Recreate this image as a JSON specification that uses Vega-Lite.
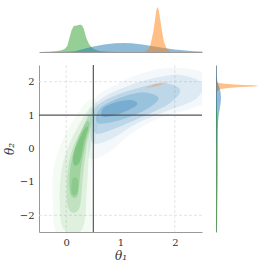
{
  "$schema": "https://vega.github.io/schema/vega-lite/v6.json",
  "background": "white",
  "padding": {"left": 3, "top": 5, "right": 0, "bottom": 0},
  "config": {"view": {"stroke": null}, "font": "DejaVu Serif",
    "axisX": {"ticks": false, "grid": false, "domainColor": "#999999", "labelFont": "DejaVu Serif", "labelFontSize": 10, "labelColor": "#333333", "labelPadding": 5, "titleFont": "DejaVu Serif", "titleFontStyle": "italic", "titleFontWeight": "normal", "titleFontSize": 12, "titleColor": "#333333", "titlePadding": 3},
    "axisY": {"ticks": false, "grid": false, "domainColor": "#999999", "labelFont": "DejaVu Serif", "labelFontSize": 10, "labelColor": "#333333", "labelPadding": 5, "titleFont": "DejaVu Serif", "titleFontStyle": "italic", "titleFontWeight": "normal", "titleFontSize": 12, "titleColor": "#333333", "titlePadding": 3}
  },
  "datasets": {
    "top": [
      {"dist":"green","t1":-0.5,"d":0},{"dist":"green","t1":-0.3,"d":0.3},{"dist":"green","t1":-0.2,"d":0.8},{"dist":"green","t1":-0.1,"d":1.5},{"dist":"green","t1":-0.03,"d":3},{"dist":"green","t1":0.02,"d":6},{"dist":"green","t1":0.06,"d":14},{"dist":"green","t1":0.1,"d":22},{"dist":"green","t1":0.14,"d":26},{"dist":"green","t1":0.2,"d":26.5},{"dist":"green","t1":0.26,"d":27.5},{"dist":"green","t1":0.3,"d":26},{"dist":"green","t1":0.33,"d":22},{"dist":"green","t1":0.37,"d":14},{"dist":"green","t1":0.42,"d":8},{"dist":"green","t1":0.48,"d":4},{"dist":"green","t1":0.55,"d":2},{"dist":"green","t1":0.65,"d":0.8},{"dist":"green","t1":0.8,"d":0.3},{"dist":"green","t1":1.0,"d":0.1},{"dist":"green","t1":1.5,"d":0},{"dist":"green","t1":2.5,"d":0},
      {"dist":"blue","t1":-0.5,"d":0},{"dist":"blue","t1":0,"d":0.2},{"dist":"blue","t1":0.15,"d":0.8},{"dist":"blue","t1":0.25,"d":2},{"dist":"blue","t1":0.35,"d":3.5},{"dist":"blue","t1":0.5,"d":5.5},{"dist":"blue","t1":0.7,"d":7.5},{"dist":"blue","t1":0.9,"d":8.7},{"dist":"blue","t1":1.05,"d":9},{"dist":"blue","t1":1.2,"d":8.7},{"dist":"blue","t1":1.4,"d":7.5},{"dist":"blue","t1":1.6,"d":5.8},{"dist":"blue","t1":1.8,"d":4},{"dist":"blue","t1":2.0,"d":2.5},{"dist":"blue","t1":2.2,"d":1.4},{"dist":"blue","t1":2.35,"d":0.8},{"dist":"blue","t1":2.5,"d":0.4},
      {"dist":"orange","t1":-0.5,"d":0},{"dist":"orange","t1":1.35,"d":0},{"dist":"orange","t1":1.45,"d":0.5},{"dist":"orange","t1":1.5,"d":2},{"dist":"orange","t1":1.55,"d":7},{"dist":"orange","t1":1.6,"d":19},{"dist":"orange","t1":1.63,"d":30},{"dist":"orange","t1":1.66,"d":42},{"dist":"orange","t1":1.68,"d":45},{"dist":"orange","t1":1.7,"d":43},{"dist":"orange","t1":1.73,"d":33},{"dist":"orange","t1":1.77,"d":19},{"dist":"orange","t1":1.8,"d":10},{"dist":"orange","t1":1.85,"d":3.5},{"dist":"orange","t1":1.9,"d":1},{"dist":"orange","t1":1.95,"d":0.3},{"dist":"orange","t1":2.0,"d":0},{"dist":"orange","t1":2.5,"d":0}
    ],
    "right": [
      {"dist":"orange","t2":2.5,"d":0},{"dist":"orange","t2":2.1,"d":0},{"dist":"orange","t2":2.0,"d":0.5},{"dist":"orange","t2":1.97,"d":2},{"dist":"orange","t2":1.94,"d":8},{"dist":"orange","t2":1.91,"d":22},{"dist":"orange","t2":1.89,"d":38},{"dist":"orange","t2":1.875,"d":43},{"dist":"orange","t2":1.86,"d":38},{"dist":"orange","t2":1.84,"d":25},{"dist":"orange","t2":1.81,"d":12},{"dist":"orange","t2":1.78,"d":5},{"dist":"orange","t2":1.74,"d":2},{"dist":"orange","t2":1.7,"d":0.8},{"dist":"orange","t2":1.6,"d":0.2},{"dist":"orange","t2":1.5,"d":0},
      {"dist":"blue","t2":2.5,"d":0.2},{"dist":"blue","t2":2.2,"d":0.6},{"dist":"blue","t2":2.0,"d":1.5},{"dist":"blue","t2":1.85,"d":3},{"dist":"blue","t2":1.7,"d":4.5},{"dist":"blue","t2":1.55,"d":5},{"dist":"blue","t2":1.4,"d":4.8},{"dist":"blue","t2":1.2,"d":3.8},{"dist":"blue","t2":1.0,"d":2.8},{"dist":"blue","t2":0.8,"d":2},{"dist":"blue","t2":0.5,"d":1.3},{"dist":"blue","t2":0.2,"d":0.8},{"dist":"blue","t2":0,"d":0.5},{"dist":"blue","t2":-0.5,"d":0.3},{"dist":"blue","t2":-1,"d":0.2},{"dist":"blue","t2":-2.5,"d":0.1},
      {"dist":"green","t2":1.5,"d":0},{"dist":"green","t2":1.2,"d":0.5},{"dist":"green","t2":1.0,"d":1.3},{"dist":"green","t2":0.7,"d":1.8},{"dist":"green","t2":0.3,"d":2},{"dist":"green","t2":0,"d":2},{"dist":"green","t2":-0.5,"d":1.9},{"dist":"green","t2":-1,"d":1.8},{"dist":"green","t2":-1.5,"d":1.5},{"dist":"green","t2":-2,"d":1.2},{"dist":"green","t2":-2.5,"d":1.0}
    ],
    "contours": [
      {"dist":"green","level":1,"poly":"g1","i":0,"t1":-0.15,"t2":-2.6},{"dist":"green","level":1,"poly":"g1","i":1,"t1":0.42,"t2":-2.6},{"dist":"green","level":1,"poly":"g1","i":2,"t1":0.45,"t2":-1.0},{"dist":"green","level":1,"poly":"g1","i":3,"t1":0.5,"t2":-0.2},{"dist":"green","level":1,"poly":"g1","i":4,"t1":0.56,"t2":0.5},{"dist":"green","level":1,"poly":"g1","i":5,"t1":0.6,"t2":1.0},{"dist":"green","level":1,"poly":"g1","i":6,"t1":0.55,"t2":1.42},{"dist":"green","level":1,"poly":"g1","i":7,"t1":0.4,"t2":1.42},{"dist":"green","level":1,"poly":"g1","i":8,"t1":0.15,"t2":0.9},{"dist":"green","level":1,"poly":"g1","i":9,"t1":-0.05,"t2":0.3},{"dist":"green","level":1,"poly":"g1","i":10,"t1":-0.22,"t2":-0.5},{"dist":"green","level":1,"poly":"g1","i":11,"t1":-0.25,"t2":-1.5},
      {"dist":"green","level":2,"poly":"g2","i":0,"t1":-0.05,"t2":-2.4},{"dist":"green","level":2,"poly":"g2","i":1,"t1":0.3,"t2":-2.4},{"dist":"green","level":2,"poly":"g2","i":2,"t1":0.38,"t2":-1.2},{"dist":"green","level":2,"poly":"g2","i":3,"t1":0.42,"t2":-0.2},{"dist":"green","level":2,"poly":"g2","i":4,"t1":0.5,"t2":0.6},{"dist":"green","level":2,"poly":"g2","i":5,"t1":0.52,"t2":1.15},{"dist":"green","level":2,"poly":"g2","i":6,"t1":0.43,"t2":1.2},{"dist":"green","level":2,"poly":"g2","i":7,"t1":0.25,"t2":0.75},{"dist":"green","level":2,"poly":"g2","i":8,"t1":0.05,"t2":0.1},{"dist":"green","level":2,"poly":"g2","i":9,"t1":-0.08,"t2":-0.6},{"dist":"green","level":2,"poly":"g2","i":10,"t1":-0.12,"t2":-1.5},
      {"dist":"green","level":3,"poly":"g3","i":0,"t1":0.04,"t2":-1.8},{"dist":"green","level":3,"poly":"g3","i":1,"t1":0.24,"t2":-1.8},{"dist":"green","level":3,"poly":"g3","i":2,"t1":0.31,"t2":-0.8},{"dist":"green","level":3,"poly":"g3","i":3,"t1":0.38,"t2":0.1},{"dist":"green","level":3,"poly":"g3","i":4,"t1":0.47,"t2":0.8},{"dist":"green","level":3,"poly":"g3","i":5,"t1":0.42,"t2":1.0},{"dist":"green","level":3,"poly":"g3","i":6,"t1":0.3,"t2":0.6},{"dist":"green","level":3,"poly":"g3","i":7,"t1":0.12,"t2":0.0},{"dist":"green","level":3,"poly":"g3","i":8,"t1":0.02,"t2":-0.8},
      {"dist":"green","level":4,"poly":"g4","i":0,"t1":0.09,"t2":-1.4},{"dist":"green","level":4,"poly":"g4","i":1,"t1":0.21,"t2":-1.4},{"dist":"green","level":4,"poly":"g4","i":2,"t1":0.27,"t2":-0.6},{"dist":"green","level":4,"poly":"g4","i":3,"t1":0.35,"t2":0.1},{"dist":"green","level":4,"poly":"g4","i":4,"t1":0.43,"t2":0.7},{"dist":"green","level":4,"poly":"g4","i":5,"t1":0.37,"t2":0.8},{"dist":"green","level":4,"poly":"g4","i":6,"t1":0.22,"t2":0.3},{"dist":"green","level":4,"poly":"g4","i":7,"t1":0.11,"t2":-0.3},{"dist":"green","level":4,"poly":"g4","i":8,"t1":0.06,"t2":-0.9},
      {"dist":"green","level":5,"poly":"g5","i":0,"t1":0.15,"t2":-0.5},{"dist":"green","level":5,"poly":"g5","i":1,"t1":0.25,"t2":-0.4},{"dist":"green","level":5,"poly":"g5","i":2,"t1":0.33,"t2":0.2},{"dist":"green","level":5,"poly":"g5","i":3,"t1":0.4,"t2":0.6},{"dist":"green","level":5,"poly":"g5","i":4,"t1":0.35,"t2":0.62},{"dist":"green","level":5,"poly":"g5","i":5,"t1":0.22,"t2":0.2},{"dist":"green","level":5,"poly":"g5","i":6,"t1":0.13,"t2":-0.2},
      {"dist":"green","level":3,"poly":"g5b","i":0,"t1":0.1,"t2":-1.35},{"dist":"green","level":3,"poly":"g5b","i":1,"t1":0.2,"t2":-1.35},{"dist":"green","level":3,"poly":"g5b","i":2,"t1":0.22,"t2":-0.95},{"dist":"green","level":3,"poly":"g5b","i":3,"t1":0.12,"t2":-0.9},
      {"dist":"blue","level":1,"poly":"b1","i":0,"t1":0.45,"t2":-0.3},{"dist":"blue","level":1,"poly":"b1","i":1,"t1":0.8,"t2":-0.1},{"dist":"blue","level":1,"poly":"b1","i":2,"t1":1.2,"t2":0.45},{"dist":"blue","level":1,"poly":"b1","i":3,"t1":1.7,"t2":0.9},{"dist":"blue","level":1,"poly":"b1","i":4,"t1":2.3,"t2":1.2},{"dist":"blue","level":1,"poly":"b1","i":5,"t1":2.7,"t2":1.5},{"dist":"blue","level":1,"poly":"b1","i":6,"t1":2.7,"t2":2.1},{"dist":"blue","level":1,"poly":"b1","i":7,"t1":2.3,"t2":2.38},{"dist":"blue","level":1,"poly":"b1","i":8,"t1":1.8,"t2":2.4},{"dist":"blue","level":1,"poly":"b1","i":9,"t1":1.3,"t2":2.2},{"dist":"blue","level":1,"poly":"b1","i":10,"t1":0.9,"t2":1.9},{"dist":"blue","level":1,"poly":"b1","i":11,"t1":0.55,"t2":1.55},{"dist":"blue","level":1,"poly":"b1","i":12,"t1":0.4,"t2":1.0},{"dist":"blue","level":1,"poly":"b1","i":13,"t1":0.4,"t2":0.3},
      {"dist":"blue","level":2,"poly":"b2","i":0,"t1":0.5,"t2":0.15},{"dist":"blue","level":2,"poly":"b2","i":1,"t1":0.85,"t2":0.3},{"dist":"blue","level":2,"poly":"b2","i":2,"t1":1.3,"t2":0.75},{"dist":"blue","level":2,"poly":"b2","i":3,"t1":1.9,"t2":1.15},{"dist":"blue","level":2,"poly":"b2","i":4,"t1":2.4,"t2":1.5},{"dist":"blue","level":2,"poly":"b2","i":5,"t1":2.5,"t2":1.95},{"dist":"blue","level":2,"poly":"b2","i":6,"t1":2.1,"t2":2.2},{"dist":"blue","level":2,"poly":"b2","i":7,"t1":1.6,"t2":2.1},{"dist":"blue","level":2,"poly":"b2","i":8,"t1":1.1,"t2":1.85},{"dist":"blue","level":2,"poly":"b2","i":9,"t1":0.7,"t2":1.55},{"dist":"blue","level":2,"poly":"b2","i":10,"t1":0.48,"t2":1.2},{"dist":"blue","level":2,"poly":"b2","i":11,"t1":0.45,"t2":0.6},
      {"dist":"blue","level":3,"poly":"b3","i":0,"t1":0.55,"t2":0.45},{"dist":"blue","level":3,"poly":"b3","i":1,"t1":0.9,"t2":0.6},{"dist":"blue","level":3,"poly":"b3","i":2,"t1":1.4,"t2":0.95},{"dist":"blue","level":3,"poly":"b3","i":3,"t1":1.9,"t2":1.35},{"dist":"blue","level":3,"poly":"b3","i":4,"t1":2.1,"t2":1.75},{"dist":"blue","level":3,"poly":"b3","i":5,"t1":1.8,"t2":1.95},{"dist":"blue","level":3,"poly":"b3","i":6,"t1":1.3,"t2":1.8},{"dist":"blue","level":3,"poly":"b3","i":7,"t1":0.85,"t2":1.55},{"dist":"blue","level":3,"poly":"b3","i":8,"t1":0.55,"t2":1.25},{"dist":"blue","level":3,"poly":"b3","i":9,"t1":0.5,"t2":0.85},
      {"dist":"blue","level":4,"poly":"b4","i":0,"t1":0.6,"t2":0.75},{"dist":"blue","level":4,"poly":"b4","i":1,"t1":1.0,"t2":0.85},{"dist":"blue","level":4,"poly":"b4","i":2,"t1":1.45,"t2":1.15},{"dist":"blue","level":4,"poly":"b4","i":3,"t1":1.7,"t2":1.5},{"dist":"blue","level":4,"poly":"b4","i":4,"t1":1.45,"t2":1.68},{"dist":"blue","level":4,"poly":"b4","i":5,"t1":1.05,"t2":1.55},{"dist":"blue","level":4,"poly":"b4","i":6,"t1":0.7,"t2":1.3},{"dist":"blue","level":4,"poly":"b4","i":7,"t1":0.57,"t2":1.05},
      {"dist":"blue","level":5,"poly":"b5","i":0,"t1":0.68,"t2":0.95},{"dist":"blue","level":5,"poly":"b5","i":1,"t1":1.0,"t2":1.05},{"dist":"blue","level":5,"poly":"b5","i":2,"t1":1.3,"t2":1.3},{"dist":"blue","level":5,"poly":"b5","i":3,"t1":1.2,"t2":1.45},{"dist":"blue","level":5,"poly":"b5","i":4,"t1":0.9,"t2":1.38},{"dist":"blue","level":5,"poly":"b5","i":5,"t1":0.68,"t2":1.2},
      {"dist":"orange","level":3,"poly":"o1","i":0,"t1":1.48,"t2":1.8},{"dist":"orange","level":3,"poly":"o1","i":1,"t1":1.7,"t2":1.88},{"dist":"orange","level":3,"poly":"o1","i":2,"t1":1.88,"t2":1.97},{"dist":"orange","level":3,"poly":"o1","i":3,"t1":1.72,"t2":1.97},{"dist":"orange","level":3,"poly":"o1","i":4,"t1":1.52,"t2":1.88},
      {"dist":"orange","level":5,"poly":"o2","i":0,"t1":1.58,"t2":1.86},{"dist":"orange","level":5,"poly":"o2","i":1,"t1":1.72,"t2":1.91},{"dist":"orange","level":5,"poly":"o2","i":2,"t1":1.8,"t2":1.95},{"dist":"orange","level":5,"poly":"o2","i":3,"t1":1.66,"t2":1.93}
    ],
    "vgrid": [{"t1":0},{"t1":2}],
    "hgrid": [{"t2":-2},{"t2":2}],
    "vref": [{"t1":0.5}],
    "href": [{"t2":1}]
  },
  "spacing": 12,
  "vconcat": [
    {
      "width": 163,
      "height": 47,
      "data": {"name": "top"},
      "mark": {"type": "area", "opacity": 0.5},
      "encoding": {
        "x": {"field": "t1", "type": "quantitative", "scale": {"domain": [-0.5, 2.5], "nice": false, "zero": false},
              "axis": {"labels": false, "ticks": false, "grid": false, "title": null, "domainColor": "#999999"}},
        "y": {"field": "d", "type": "quantitative", "stack": null, "scale": {"domain": [0, 47], "nice": false}, "axis": null},
        "color": {"field": "dist", "type": "nominal", "scale": {"domain": ["green", "blue", "orange"], "range": ["#2ca02c", "#1f77b4", "#ff7f0e"]}, "legend": null}
      }
    },
    {
      "spacing": 13,
      "hconcat": [
        {
          "width": 163,
          "height": 167,
          "layer": [
            {"data": {"name": "vgrid"}, "mark": {"type": "rule", "color": "#dddddd", "strokeDash": [3, 2], "strokeWidth": 0.8},
             "encoding": {"x": {"field": "t1", "type": "quantitative", "title": "θ₁", "axis": {"values": [0, 1, 2]}, "scale": {"domain": [-0.5, 2.5], "nice": false, "zero": false}}}},
            {"data": {"name": "hgrid"}, "mark": {"type": "rule", "color": "#dddddd", "strokeDash": [3, 2], "strokeWidth": 0.8},
             "encoding": {"y": {"field": "t2", "type": "quantitative", "title": "θ₂", "axis": {"values": [-2, -1, 0, 1, 2]}, "scale": {"domain": [-2.5, 2.5], "nice": false, "zero": false}}}},
            {
              "data": {"name": "contours"},
              "mark": {"type": "line", "filled": true, "interpolate": "cardinal-closed", "clip": true},
              "encoding": {
                "x": {"field": "t1", "type": "quantitative", "title": "θ₁", "axis": {"values": [0, 1, 2]}, "scale": {"domain": [-0.5, 2.5], "nice": false, "zero": false}},
                "y": {"field": "t2", "type": "quantitative", "title": "θ₂", "axis": {"values": [-2, -1, 0, 1, 2]}, "scale": {"domain": [-2.5, 2.5], "nice": false, "zero": false}},
                "detail": {"field": "poly", "type": "nominal"},
                "order": {"field": "i", "type": "quantitative"},
                "opacity": {"field": "level", "type": "quantitative", "scale": {"domain": [1, 5], "range": [0.05, 0.28]}, "legend": null},
                "color": {"field": "dist", "type": "nominal", "scale": {"domain": ["green", "blue", "orange"], "range": ["#4cae56", "#3069b0", "#e0702a"]}, "legend": null}
              }
            },
            {"data": {"name": "vref"}, "mark": {"type": "rule", "color": "#555555", "strokeWidth": 1.2},
             "encoding": {"x": {"field": "t1", "type": "quantitative", "title": "θ₁", "axis": {"values": [0, 1, 2]}, "scale": {"domain": [-0.5, 2.5], "nice": false, "zero": false}}}},
            {"data": {"name": "href"}, "mark": {"type": "rule", "color": "#555555", "strokeWidth": 1.2},
             "encoding": {"y": {"field": "t2", "type": "quantitative", "title": "θ₂", "axis": {"values": [-2, -1, 0, 1, 2]}, "scale": {"domain": [-2.5, 2.5], "nice": false, "zero": false}}}}
          ]
        },
        {
          "width": 46,
          "height": 167,
          "data": {"name": "right"},
          "mark": {"type": "area", "orient": "horizontal", "opacity": 0.5},
          "encoding": {
            "y": {"field": "t2", "type": "quantitative", "scale": {"domain": [-2.5, 2.5], "nice": false, "zero": false},
                  "axis": {"labels": false, "ticks": false, "grid": false, "title": null, "domainColor": "#999999"}},
            "x": {"field": "d", "type": "quantitative", "stack": null, "scale": {"domain": [0, 46], "nice": false}, "axis": null},
            "color": {"field": "dist", "type": "nominal", "scale": {"domain": ["green", "blue", "orange"], "range": ["#2ca02c", "#1f77b4", "#ff7f0e"]}, "legend": null}
          }
        }
      ]
    }
  ]
}
